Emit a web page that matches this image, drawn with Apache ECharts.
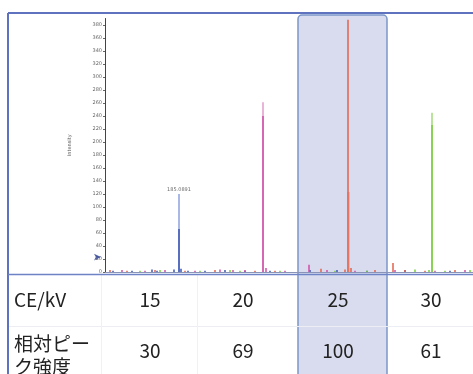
<!DOCTYPE html>
<html>
<head>
<meta charset="utf-8">
<script src="https://cdn.jsdelivr.net/npm/echarts@6/dist/echarts.min.js"></script>
<style>
  html, body { margin: 0; padding: 0; background: #fff; }
  #main { width: 473px; height: 374px; }
</style>
</head>
<body>
<div id="main"></div>
<script>
// y axis ticks
const yMin = 0, yMax = 390, yStep = 20;

// spectra, one per collision energy: [position, intensity]
const blueMain = [[74, 66]], blueShade = [[74, 120]];
const pinkMain = [[158, 240]], pinkShade = [[158, 261]];
const redMain = [[243, 388]], redShade = [[243, 123]];
const greenMain = [[327, 226]], greenShade = [[327, 245]];

const blueNoise = [[8,2],[27,2],[47,4],[52,2],[69,4],[76,5],[83,2],[100,2],[120,3],[140,2],[165,2],[205,3],[232,3],[262,2],[300,3],[345,2]];
const pinkNoise = [[17,3],[40,2],[60,3],[90,2],[115,4],[128,3],[140,3],[161,6],[180,2],[204,11],[222,3],[250,2],[290,3],[330,2],[360,3]];
const redNoise = [[5,3],[22,2],[50,3],[80,2],[110,3],[150,2],[170,2],[216,5],[240,4],[246,6],[270,3],[288,14],[300,3],[320,2],[350,3]];
const greenNoise = [[35,2],[55,3],[95,2],[125,3],[135,2],[175,2],[230,2],[262,2],[310,4],[324,3],[340,2],[365,3]];

const peakLabels = [[74, 120, '185.0891']];
const markerPoint = [[-4, 23]];

// table
const rowHeads = ['CE/kV', '相対ピー\nク強度'];
const ceValues = ['15', '20', '25', '30'];
const relIntensity = ['30', '69', '100', '61'];

const colCenters = [150, 243, 338, 431];
const rowCenters = [300, 351];

const chart = echarts.init(document.getElementById('main'));

function spikes(name, pts, color, width, z) {
  return {
    name: name,
    type: 'lines',
    coordinateSystem: 'cartesian2d',
    polyline: false,
    z: z,
    silent: true,
    lineStyle: { color: color, width: width, opacity: 1 },
    data: pts.map(p => ({ coords: [[p[0], 0], [p[0], p[1]]] }))
  };
}

const tableFont = '"Noto Sans CJK JP", "Noto Sans", sans-serif';
const graphics = [];

// highlighted column (25 kV)
graphics.push({
  type: 'rect', z: -10,
  shape: { x: 298, y: 15, width: 89, height: 370, r: [4, 4, 0, 0] },
  style: { fill: '#d9dcee', stroke: '#7b96c9', lineWidth: 1.5 }
});
// frame
graphics.push({ type: 'line', z: 10, shape: { x1: 8, y1: 13, x2: 473, y2: 13 }, style: { stroke: '#5f72bf', lineWidth: 2 } });
graphics.push({ type: 'line', z: 10, shape: { x1: 8, y1: 13, x2: 8, y2: 374 }, style: { stroke: '#5f72bf', lineWidth: 2 } });
graphics.push({ type: 'line', z: 10, shape: { x1: 8, y1: 274.5, x2: 473, y2: 274.5 }, style: { stroke: '#6e82c6', lineWidth: 1.5 } });
graphics.push({ type: 'line', z: 1, shape: { x1: 9, y1: 326.5, x2: 473, y2: 326.5 }, style: { stroke: '#eceef3', lineWidth: 1 } });
[101, 197].forEach(x => {
  graphics.push({ type: 'line', z: 1, shape: { x1: x + 0.5, y1: 275, x2: x + 0.5, y2: 374 }, style: { stroke: '#f0f1f5', lineWidth: 1 } });
});

rowHeads.forEach((t, i) => {
  graphics.push({
    type: 'text', z: 20,
    style: {
      text: t, x: 14, y: i === 0 ? rowCenters[0] : 355,
      font: '19px ' + tableFont, fill: '#222',
      textAlign: 'left', textVerticalAlign: 'middle', lineHeight: 23
    }
  });
});
[ceValues, relIntensity].forEach((row, r) => {
  row.forEach((t, c) => {
    graphics.push({
      type: 'text', z: 20,
      style: {
        text: t, x: colCenters[c], y: rowCenters[r],
        font: '19px ' + tableFont, fill: '#222',
        textAlign: 'center', textVerticalAlign: 'middle'
      }
    });
  });
});

const option = {
  backgroundColor: '#fff',
  animation: false,
  grid: { left: 105, right: 0, top: 18.5, bottom: 102 },
  xAxis: {
    type: 'value', min: 0, max: 368,
    axisLine: { show: true, onZero: false, lineStyle: { color: '#8a93b8', width: 1 } },
    axisTick: { show: false },
    axisLabel: { show: false },
    splitLine: { show: false }
  },
  yAxis: {
    type: 'value', min: yMin, max: yMax, interval: yStep,
    name: 'Intensity',
    nameLocation: 'middle', nameRotate: 90, nameGap: 33,
    nameTextStyle: { fontSize: 5, color: '#555', fontFamily: 'DejaVu Sans' },
    axisLine: { show: true, lineStyle: { color: '#444', width: 1 } },
    axisTick: { show: true, length: 2, lineStyle: { color: '#666' } },
    axisLabel: { fontSize: 5, color: '#666', margin: 3, showMaxLabel: false, fontFamily: 'DejaVu Sans' },
    splitLine: { show: false }
  },
  graphic: graphics,
  series: [
    spikes('15 shade', blueShade, '#aab8e6', 2, 2),
    spikes('20 shade', pinkShade, '#eab3d8', 2, 2),
    spikes('25 shade', redShade, '#eeb0a8', 3, 2),
    spikes('30 shade', greenShade, '#b9e39a', 2, 2),
    spikes('15', blueMain.concat(blueNoise), '#3b56b4', 1.5, 3),
    spikes('20', pinkMain.concat(pinkNoise), '#cf4ea6', 1.5, 3),
    spikes('25', redMain.concat(redNoise), '#e2634c', 1.5, 3),
    spikes('30', greenMain.concat(greenNoise), '#78cc3c', 1.5, 3),
    {
      type: 'scatter', silent: true, z: 5,
      symbolSize: 0,
      data: peakLabels.map(p => ({ value: [p[0], p[1]], name: p[2] })),
      label: {
        show: true, position: 'top', distance: 1,
        formatter: '{b}', fontSize: 5, color: '#444',
        backgroundColor: '#fff', padding: [1, 1], fontFamily: 'DejaVu Sans'
      }
    },
    {
      type: 'scatter', silent: true, z: 5, clip: false,
      symbol: 'arrow', symbolSize: [5, 7], symbolRotate: -90,
      itemStyle: { color: '#2a3f8f' },
      data: markerPoint
    }
  ]
};

chart.setOption(option);
</script>
</body>
</html>
